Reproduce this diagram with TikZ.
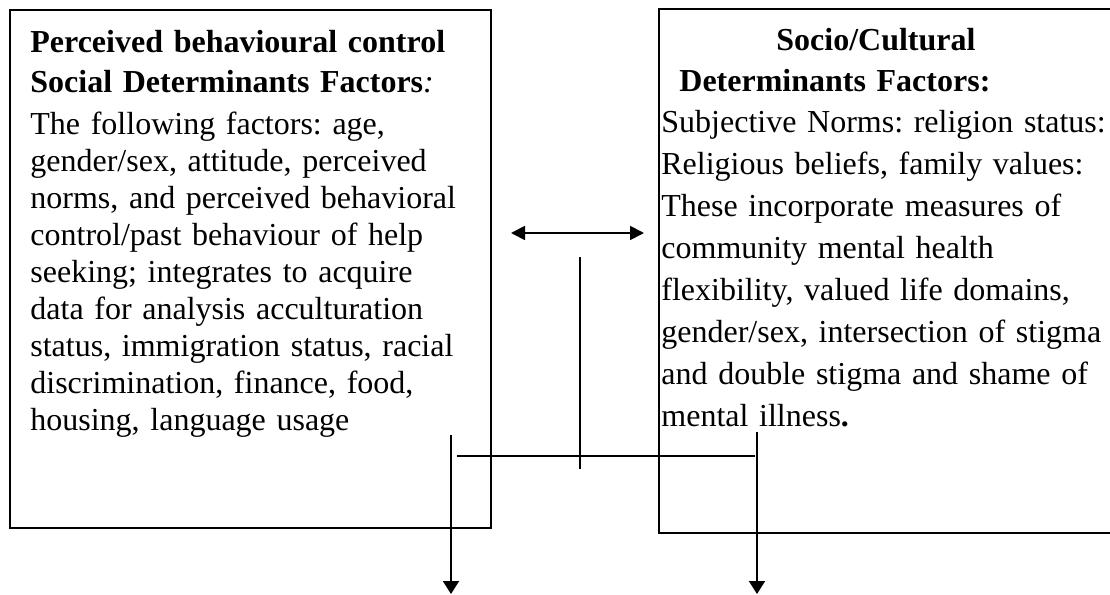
\documentclass[tikz,border=0pt]{standalone}
\usepackage{fontspec}
\setmainfont{Liberation Serif}
\usepackage{xcolor}
\usetikzlibrary{arrows.meta}
\definecolor{ink}{HTML}{000000}
\tikzset{
  frame/.style={draw=ink, line width=1pt},
  con/.style={draw=ink, line width=0.7pt},
  arr/.style={draw=ink, line width=0.9pt, -{Triangle[length=6.5pt,width=8pt]}},
  twoway/.style={draw=ink, line width=0.9pt, {Triangle[length=7pt,width=7pt]}-{Triangle[length=7pt,width=7pt]}},
  hd/.style={anchor=base west, inner sep=0pt, align=left, text width=225pt, font=\fontsize{16}{20}\selectfont\bfseries},
  bodyl/.style={anchor=base west, inner sep=0pt, align=left, text width=225pt, font=\fontsize{16}{18.5}\selectfont},
  bodyr/.style={anchor=base west, inner sep=0pt, align=left, text width=225pt, font=\fontsize{16}{21}\selectfont},
}
\frenchspacing

\begin{document}
\frenchspacing
\begin{tikzpicture}[x=0.5pt,y=-0.5pt]
  \useasboundingbox (0,0) rectangle (1110,595);
  \clip (0,0) rectangle (1110,595);
  % the two boxes
  \draw[frame] (10,10) rectangle (491,528);
  \draw[frame] (659,9) rectangle (1130,533);
  % left box text
  \node[hd] (lhead) at (30,52) {Perceived behavioural control\\Social Determinants Factors\textit{\mdseries:}};
  \node[bodyl] (lbody) at (30,134) {The following factors: age,\\
    gender/sex, attitude, perceived\\
    norms, and perceived behavioral\\
    control/past behaviour of help\\
    seeking; integrates to acquire\\
    data for analysis acculturation\\
    status, immigration status, racial\\
    discrimination, finance, food,\\
    housing, language usage};
  % right box text
  \node[hd] (rhead) at (776,50) {Socio/Cultural};
  \node[hd] (rhead2) at (679,91) {Determinants Factors:};
  \node[bodyr] (rbody) at (661,132) {Subjective Norms: religion status:\\
    Religious beliefs, family values:\\
    These incorporate measures of\\
    community mental health\\
    flexibility, valued life domains,\\
    gender/sex, intersection of stigma\\
    and double stigma and shame of\\
    mental illness\textbf{.}};
  % connectors
  \coordinate (dl) at (511,233);
  \coordinate (dr) at (644,233);
  \coordinate (mt) at (580,257);
  \coordinate (mb) at (580,469);
  \coordinate (hl) at (457,456);
  \coordinate (hr) at (755,456);
  \coordinate (al) at (451,435);
  \coordinate (alEnd) at (451,594);
  \coordinate (ar) at (757,432);
  \coordinate (arEnd) at (757,594);
  \draw[twoway] (dl) -- (dr);
  \draw[con] (mt) -- (mb);
  \draw[con] (hl) -- (hr);
  \draw[arr] (al) -- (alEnd);
  \draw[arr] (ar) -- (arEnd);
\end{tikzpicture}
\end{document}
